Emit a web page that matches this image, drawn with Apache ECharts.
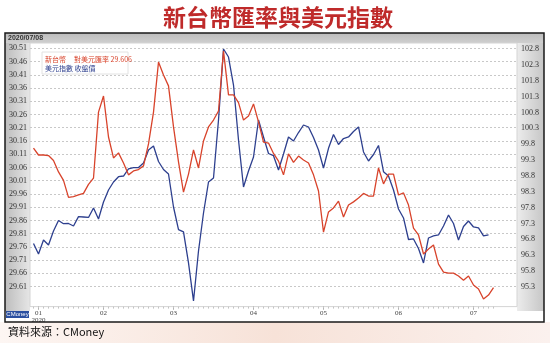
<!DOCTYPE html>
<html><head><meta charset="utf-8">
<script src="https://cdn.jsdelivr.net/npm/echarts@6/dist/echarts.min.js"></script>
<style>html,body{margin:0;padding:0;background:#fff}#c{width:550px;height:343px}</style>
</head><body><div id="c"></div>
<script>
const titleText = '新台幣匯率與美元指數';
const dateLabel = '2020/07/08';
const sourceText = '資料來源：CMoney';
const legendTwd = ['新台幣', '對美元匯率 29.606'];
const legendDxy = '美元指數 收盤價';
const monthLabels = ['01\n2020', '02', '03', '04', '05', '06', '07'];
const monthIndex = [1, 14, 28, 44, 58, 73, 88];
const twd = [30.133,30.107,30.107,30.105,30.086,30.043,30.011,29.947,29.950,29.956,
29.962,29.996,30.020,30.269,30.330,30.175,30.096,30.115,30.077,30.032,
30.047,30.052,30.066,30.149,30.269,30.458,30.409,30.368,30.213,30.081,
29.967,30.035,30.126,30.058,30.160,30.213,30.239,30.273,30.500,30.334,
30.334,30.305,30.239,30.254,30.300,30.232,30.156,30.152,30.113,30.084,
30.032,30.111,30.079,30.103,30.088,30.077,30.032,29.971,29.816,29.892,
29.907,29.933,29.873,29.918,29.930,29.945,29.962,29.952,29.952,30.058,
29.998,30.035,30.035,29.956,29.964,29.918,29.831,29.805,29.733,29.752,
29.767,29.695,29.665,29.661,29.661,29.650,29.634,29.650,29.616,29.601,
29.563,29.578,29.606];
const dxy = [96.670,96.339,96.780,96.623,97.064,97.395,97.294,97.300,97.222,97.515,
97.505,97.490,97.789,97.442,97.978,98.356,98.608,98.775,98.797,99.018,
99.059,99.065,99.207,99.617,99.743,99.254,99.002,98.860,97.820,97.105,
97.033,96.056,94.858,96.434,97.631,98.608,98.734,100.562,102.800,102.548,
101.665,99.932,98.451,98.955,99.396,100.562,100.027,99.507,99.437,98.987,
99.491,100.027,99.901,100.168,100.405,100.342,100.011,99.617,99.050,99.670,
100.105,99.790,99.979,100.027,100.200,100.342,99.554,99.270,99.475,99.759,
98.933,98.797,98.356,97.757,97.474,96.796,96.812,96.513,96.056,96.843,
96.907,96.938,97.222,97.568,97.300,96.780,97.206,97.379,97.190,97.159,
96.907,96.938,null];
const leftTicks = [29.61,29.66,29.71,29.76,29.81,29.86,29.91,29.96,30.01,30.06,30.11,30.16,30.21,30.26,30.31,30.36,30.41,30.46,30.51];
const rightTicks = [95.3,95.8,96.3,96.8,97.3,97.8,98.3,98.8,99.3,99.8,100.3,100.8,101.3,101.8,102.3,102.8];

const dayIdx = twd.map((_, i) => i);
const chart = echarts.init(document.getElementById('c'), null, {renderer: 'canvas'});
const lblFont = 'Liberation Serif';
chart.setOption({
  animation: false,
  backgroundColor: '#ffffff',
  grid: {left: 30, right: 33, top: 43, bottom: 36.4, show: true, backgroundColor: '#ffffff', borderColor: '#d4d4d4', borderWidth: 1},
  xAxis: [{
    type: 'value', min: -0.7, max: 96.7,
    axisLine: {show: false}, splitLine: {show: false},
    axisTick: {show: true, customValues: monthIndex, length: 3, lineStyle: {color: '#999'}},
    axisLabel: {customValues: monthIndex, formatter: v => monthLabels[monthIndex.indexOf(Math.round(v))] || '',
      fontSize: 7, color: '#444', margin: 3, lineHeight: 7, fontFamily: lblFont}
  }, {
    type: 'value', min: -0.7, max: 96.7, position: 'bottom',
    axisLine: {show: false}, splitLine: {show: false},
    axisTick: {show: true, customValues: dayIdx, length: 2, lineStyle: {color: '#c4c4c4'}},
    axisLabel: {show: false}
  }],
  yAxis: [{
    type: 'value', position: 'left', min: 29.5345, max: 30.53,
    axisLine: {show: false},
    axisTick: {show: false, customValues: leftTicks},
    axisLabel: {customValues: leftTicks, formatter: v => v.toFixed(2), fontSize: 8, color: '#333', margin: 3, fontFamily: lblFont},
    splitLine: {show: true, lineStyle: {type: [2, 2], color: '#c8c8c8', width: 1}}
  }, {
    type: 'value', position: 'right', min: 94.68, max: 102.99,
    axisLine: {show: false},
    axisTick: {show: false, customValues: rightTicks},
    axisLabel: {customValues: rightTicks, formatter: v => v.toFixed(1), fontSize: 8, color: '#333', margin: 4, fontFamily: lblFont},
    splitLine: {show: false}
  }],
  series: [{
    type: 'line', name: legendDxy, yAxisIndex: 1, xAxisIndex: 0,
    data: dxy.map((v, i) => [i, v]), symbol: 'none', connectNulls: false,
    lineStyle: {color: '#2d3f8e', width: 1.3}
  }, {
    type: 'line', name: legendTwd[0], yAxisIndex: 0, xAxisIndex: 0,
    data: twd.map((v, i) => [i, v]), symbol: 'none',
    lineStyle: {color: '#d8432b', width: 1.3}
  }],
  graphic: [
    {type: 'rect', z: -10, shape: {x: 5, y: 33, width: 539, height: 10},
      style: {fill: new echarts.graphic.LinearGradient(0, 0, 0, 1, [{offset: 0, color: '#bcbcbc'}, {offset: 1, color: '#cfcfcf'}])}},
    {type: 'rect', z: -10, shape: {x: 5, y: 43, width: 25, height: 268},
      style: {fill: new echarts.graphic.LinearGradient(0, 0, 1, 0, [{offset: 0, color: '#bdbdbd'}, {offset: 1, color: '#e6e6e6'}])}},
    {type: 'rect', z: -10, shape: {x: 517, y: 43, width: 27, height: 268},
      style: {fill: new echarts.graphic.LinearGradient(0, 0, 1, 0, [{offset: 0, color: '#ececec'}, {offset: 1, color: '#c6c6c6'}])}},
    {type: 'rect', z: -10, shape: {x: 0, y: 322, width: 550, height: 21},
      style: {fill: new echarts.graphic.LinearGradient(0, 0, 1, 0, [{offset: 0, color: '#fdf6f3'}, {offset: 0.5, color: '#f7e2d8'}, {offset: 1, color: '#fbf1ee'}])}},
    {type: 'rect', z: 100, shape: {x: 5, y: 33, width: 539, height: 289},
      style: {fill: null, stroke: '#1a1a1a', lineWidth: 1.5}},
    {type: 'text', z: 101, x: 8, y: 38, style: {text: dateLabel, font: 'bold 7px Liberation Sans', fill: '#333', textVerticalAlign: 'middle'}},
    {type: 'text', z: 101, x: 278, y: 17, style: {text: titleText, font: 'bold 23px "Noto Sans CJK TC"', fill: '#bf2a2a', textAlign: 'center', textVerticalAlign: 'middle'}},
    {type: 'rect', z: 50, shape: {x: 42, y: 52, width: 86, height: 22},
      style: {fill: '#ffffff', stroke: '#e2e2e2', lineWidth: 1}},
    {type: 'text', z: 51, x: 45, y: 59, style: {text: legendTwd[0], font: '7px "Noto Sans CJK TC"', fill: '#d8432b', textVerticalAlign: 'middle'}},
    {type: 'text', z: 51, x: 74, y: 59, style: {text: legendTwd[1], font: '7px "Noto Sans CJK TC"', fill: '#d8432b', textVerticalAlign: 'middle'}},
    {type: 'text', z: 51, x: 45, y: 68, style: {text: legendDxy, font: '7px "Noto Sans CJK TC"', fill: '#2d3f8e', textVerticalAlign: 'middle'}},
    {type: 'rect', z: 51, shape: {x: 6, y: 311, width: 23, height: 7}, style: {fill: '#2a4fa0'}},
    {type: 'text', z: 52, x: 17.5, y: 314.5, style: {text: 'CMoney', font: '6px Liberation Sans', fill: '#ffffff', textAlign: 'center', textVerticalAlign: 'middle'}},
    {type: 'text', z: 52, x: 8, y: 332, style: {text: sourceText, font: '11px "Noto Sans CJK TC"', fill: '#111', textVerticalAlign: 'middle'}}
  ]
});
</script></body></html>
